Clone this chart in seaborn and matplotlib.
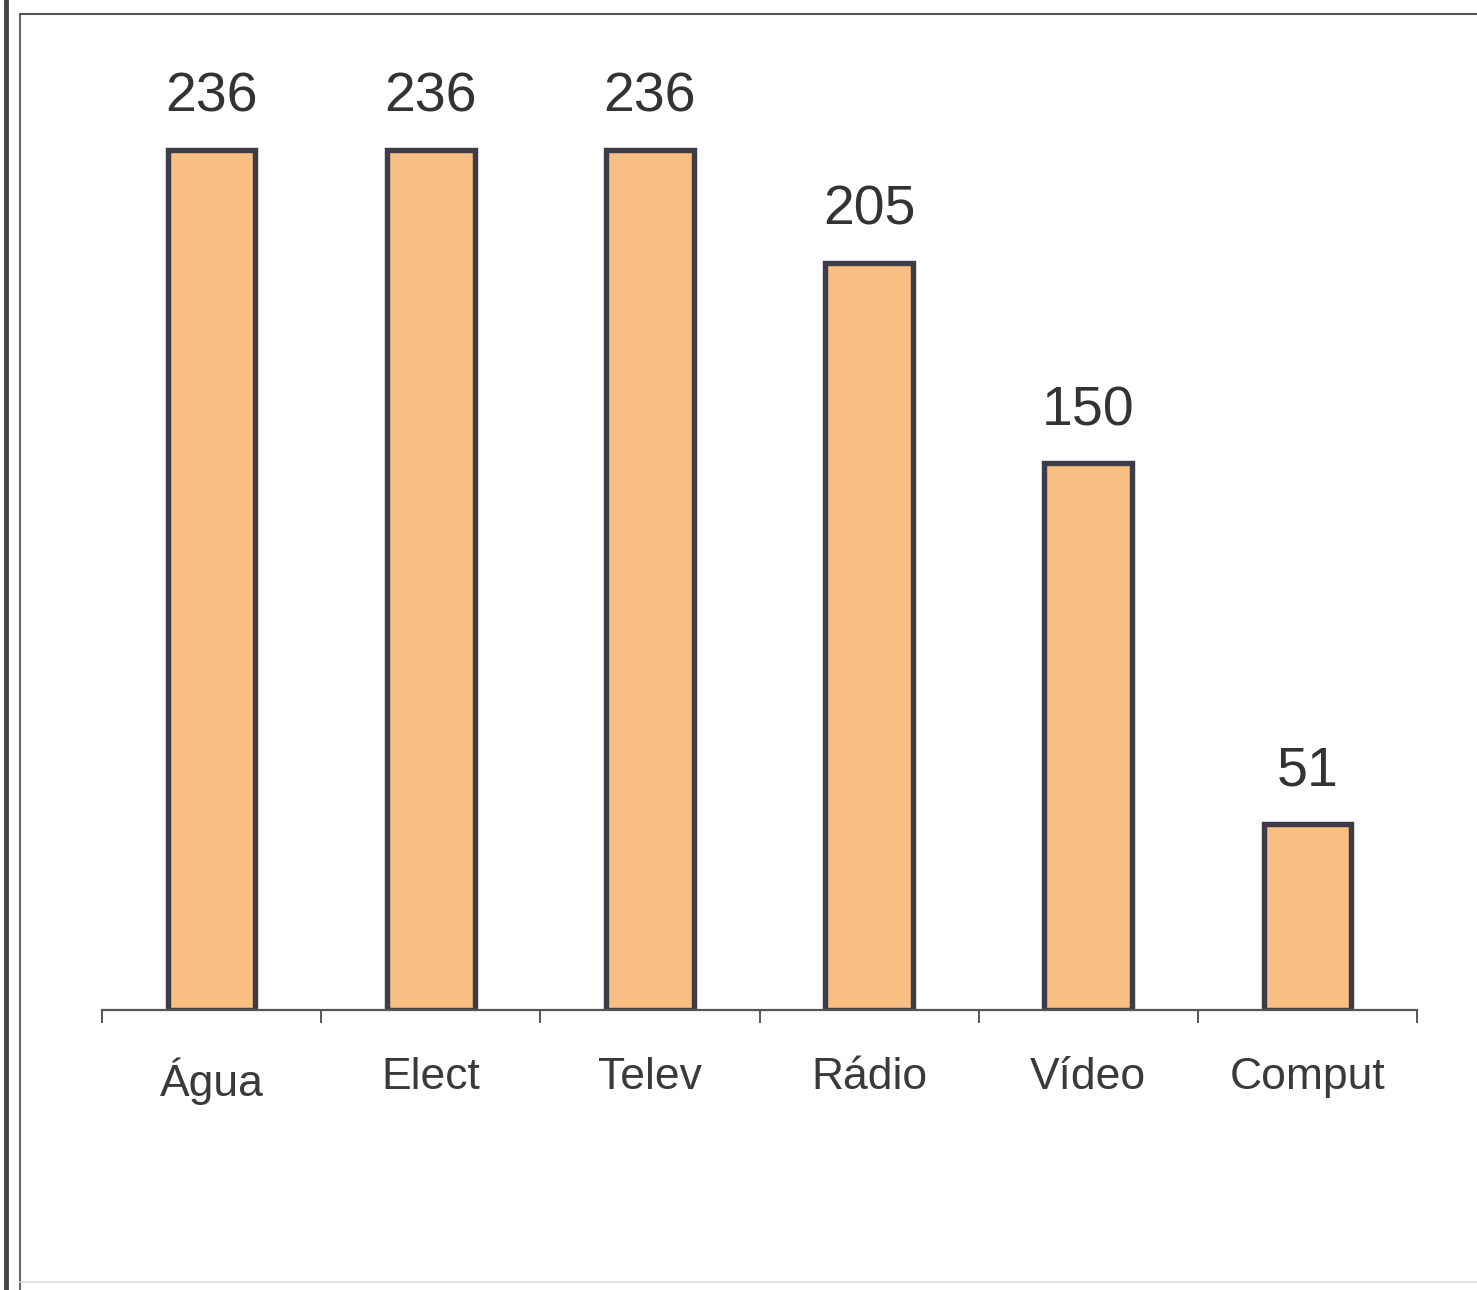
import matplotlib
matplotlib.use("Agg")
import matplotlib.pyplot as plt
import seaborn as sns
from matplotlib.lines import Line2D

# dados do gráfico
categorias = ["Água", "Elect", "Telev", "Rádio", "Vídeo", "Comput"]
valores = [236, 236, 236, 205, 150, 51]

sns.set_style("white")
plt.rcParams['font.family'] = ['Liberation Sans', 'DejaVu Sans']

W, H = 1477, 1290
fig = plt.figure(figsize=(W / 100, H / 100), dpi=100)

# posição dos eixos em pixels: x 102..1417, base em y=1010
ymax = 270
px_unit = 860 / 236
top_px = 1010 - ymax * px_unit
ax = fig.add_axes([102 / W, 1 - 1010 / H, (1417 - 102) / W, (1010 - top_px) / H])

sns.barplot(x=categorias, y=valores, color="#F9BE82", edgecolor="#3d3c48",
            linewidth=3.9, width=0.4, saturation=1, ax=ax)

ax.set_xlim(-0.5, len(categorias) - 0.5)
ax.set_ylim(0, ymax)
ax.set_yticks([])
ax.set_xlabel("")
ax.set_ylabel("")
for s in ["top", "right", "left"]:
    ax.spines[s].set_visible(False)
ax.spines["bottom"].set_color("#555555")
ax.spines["bottom"].set_linewidth(1.6)

# marcas nas divisões entre categorias, rótulos no centro
ax.set_xticks([i - 0.5 for i in range(len(categorias) + 1)])
ax.set_xticklabels([])
ax.set_xticks(range(len(categorias)), minor=True)
ax.set_xticklabels(categorias, minor=True, fontsize=32, color="#3a3a3a")
ax.tick_params(axis="x", which="major", direction="out", length=9, width=1.4,
               color="#555555", bottom=True)
ax.tick_params(axis="x", which="minor", length=0, pad=34)

ax.bar_label(ax.containers[0], padding=19, fontsize=40, color="#333333")

# moldura da imagem
fig.add_artist(Line2D([6 / W, 6 / W], [0, 1], color="#444444", lw=3.5))
fig.add_artist(Line2D([20 / W, 20 / W], [0, 1 - 14 / H], color="#666666", lw=1.5))
fig.add_artist(Line2D([20 / W, 1], [1 - 14 / H, 1 - 14 / H], color="#555555", lw=1.5))
fig.add_artist(Line2D([20 / W, 1], [1 - 1282 / H, 1 - 1282 / H], color="#dddddd", lw=1.2))

plt.savefig("out.png", dpi=100)
